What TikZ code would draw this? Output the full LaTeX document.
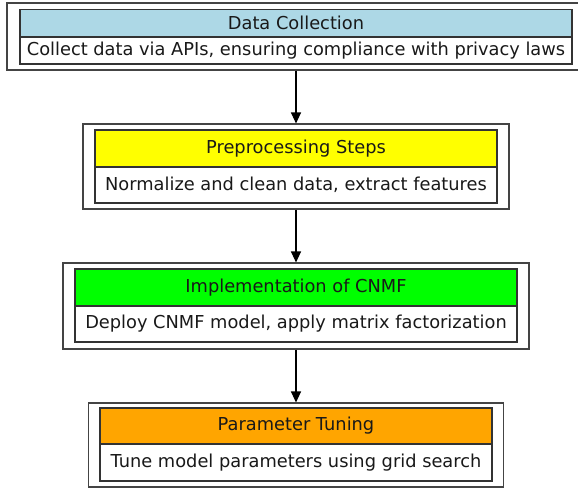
\documentclass[tikz,border=0pt]{standalone}
\usepackage{fontspec}
\setmainfont{DejaVu Sans}
\usetikzlibrary{arrows.meta}
\definecolor{hdrblue}{HTML}{ADD8E6}
\definecolor{hdryellow}{HTML}{FFFF00}
\definecolor{hdrgreen}{HTML}{00FF00}
\definecolor{hdrorange}{HTML}{FFA500}
\definecolor{outerline}{HTML}{444444}
\definecolor{innerline}{HTML}{333333}
\tikzset{
  outerbox/.style={draw=outerline, line width=1.1pt, rectangle, inner sep=0pt, fill=white},
  hdrbox/.style={draw=innerline, line width=1.1pt, rectangle, inner sep=0pt, text=black!90,
    font=\fontsize{17.8}{21}\selectfont},
  bodybox/.style={draw=innerline, line width=1.1pt, rectangle, inner sep=0pt, fill=white, text=black!90,
    font=\fontsize{17.8}{21}\selectfont},
  flowarrow/.style={draw=black, line width=1.1pt, -{Triangle[length=11pt,width=10pt]}}
}
\begin{document}
\begin{tikzpicture}[x=1pt,y=-1pt]
\useasboundingbox (0,0) rectangle (578,490);
\clip (0,0) rectangle (578,490);
% Box 1
\node[outerbox, minimum width=578pt, minimum height=67pt] (o1) at (296,36.5) {};
\node[hdrbox, fill=hdrblue, minimum width=552pt, minimum height=27pt] (h1) at (296,23) {Data Collection};
\node[bodybox, minimum width=552pt, minimum height=27pt] (b1) at (296,50.5) {Collect data via APIs, ensuring compliance with privacy laws};
% Box 2
\node[outerbox, minimum width=426pt, minimum height=85pt] (o2) at (296,166.5) {};
\node[hdrbox, fill=hdryellow, minimum width=402pt, minimum height=37pt] (h2) at (296,148.5) {Preprocessing Steps};
\node[bodybox, minimum width=402pt, minimum height=36pt] (b2) at (296,185) {Normalize and clean data, extract features};
% Box 3
\node[outerbox, minimum width=466pt, minimum height=86pt] (o3) at (296,306) {};
\node[hdrbox, fill=hdrgreen, minimum width=442pt, minimum height=37pt] (h3) at (296,287.5) {Implementation of CNMF};
\node[bodybox, minimum width=442pt, minimum height=36pt] (b3) at (296,324) {Deploy CNMF model, apply matrix factorization};
% Box 4
\node[outerbox, minimum width=415pt, minimum height=84pt] (o4) at (296,445) {};
\node[hdrbox, fill=hdrorange, minimum width=392pt, minimum height=36pt] (h4) at (296,426) {Parameter Tuning};
\node[bodybox, minimum width=392pt, minimum height=37pt] (b4) at (296,462.5) {Tune model parameters using grid search};
% Arrows
\draw[flowarrow] (o1.south) -- (o2.north);
\draw[flowarrow] (o2.south) -- (o3.north);
\draw[flowarrow] (o3.south) -- (o4.north);
\end{tikzpicture}
\end{document}
